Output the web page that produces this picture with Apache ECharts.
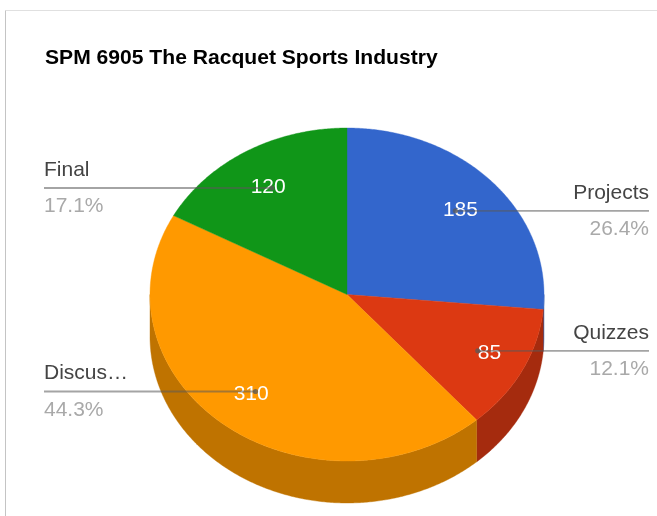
<!DOCTYPE html>
<html>
<head>
<meta charset="utf-8">
<style>html,body{margin:0;padding:0;background:#fff}#chart{width:657px;height:516px}</style>
<script src="https://cdn.jsdelivr.net/npm/echarts@6/dist/echarts.min.js"></script>
</head>
<body>
<div id="chart"></div>
<script>
// Course grade weights
var chartTitle = 'SPM 6905 The Racquet Sports Industry';
var categories = ['Projects', 'Quizzes', 'Discus\u2026', 'Final'];
var values = [185, 85, 310, 120];
var topColors = ['#3366CC', '#DC3912', '#FF9900', '#109618'];
var wallColors = ['#264D99', '#A52B0E', '#BF7300', '#0C7112'];

// Tilted-disc geometry, in pixels
var CX = 347, CY = 294.5, RX = 197, RY = 166.5, DEPTH = 42;
var LEADER_F = 0.745, VALUE_FX = 0.78, VALUE_FY = 0.757;
var LEFT_X = 44, RIGHT_X = 649;
var FONT = '"Liberation Sans", Arial, sans-serif';
var quizzesValueShift = 5.5;

var total = values.reduce(function (a, b) { return a + b; }, 0);

function sliceAngles(index) {
  var before = values.slice(0, index).reduce(function (a, b) { return a + b; }, 0);
  return [before / total * 360, (before + values[index]) / total * 360];
}
function rimPoint(deg, f, drop) {
  var r = deg * Math.PI / 180;
  return [CX + RX * f * Math.sin(r), CY - RY * f * Math.cos(r) + (drop || 0)];
}
function arcPoints(a, b, drop) {
  var pts = [], n = Math.max(2, Math.ceil((b - a) * 2));
  for (var i = 0; i <= n; i++) pts.push(rimPoint(a + (b - a) * i / n, 1, drop));
  return pts;
}

// Side wall of a slice: only the part on the near half of the disc shows
function renderWall(params, api) {
  var i = params.dataIndex, ang = sliceAngles(i);
  var a = Math.max(ang[0], 90), b = Math.min(ang[1], 270);
  if (b <= a || !api.value(0)) return null;
  var pts = arcPoints(a, b, 0).concat(arcPoints(a, b, DEPTH).reverse());
  return { type: 'polygon', shape: { points: pts },
    style: { fill: wallColors[i], stroke: wallColors[i], lineWidth: 0.4 } };
}

// Upper face of a slice
function renderTop(params, api) {
  var i = params.dataIndex, ang = sliceAngles(i);
  if (!api.value(0)) return null;
  var pts = [[CX, CY]].concat(arcPoints(ang[0], ang[1], 0));
  return { type: 'polygon', shape: { points: pts },
    style: { fill: topColors[i], stroke: topColors[i], lineWidth: 0.4 } };
}

// Value, leader line, anchor dot, name and share for a slice
function renderLabel(params, api) {
  var i = params.dataIndex, ang = sliceAngles(i), mid = (ang[0] + ang[1]) / 2;
  var v = api.value(0);
  var anchor = rimPoint(mid, LEADER_F);
  var onRight = mid < 180;
  var edge = onRight ? RIGHT_X : LEFT_X;
  var align = onRight ? 'right' : 'left';
  var vx = rimPoint(mid, VALUE_FX)[0] + (categories[i] === 'Quizzes' ? quizzesValueShift : 0);
  var vy = rimPoint(mid, VALUE_FY)[1] + 1;
  function text(x, y, str, fill, al) {
    return { type: 'text', style: { x: x, y: y, text: str, fill: fill,
      font: '21px ' + FONT, align: al, verticalAlign: 'middle' } };
  }
  return { type: 'group', children: [
    text(vx, vy, String(v), '#ffffff', 'center'),
    { type: 'line', shape: { x1: anchor[0], y1: anchor[1], x2: edge, y2: anchor[1] },
      style: { stroke: 'rgba(90,90,90,0.55)', lineWidth: 1.8 } },
    { type: 'circle', shape: { cx: anchor[0], cy: anchor[1], r: 2.6 },
      style: { fill: 'rgba(90,90,90,0.75)' } },
    text(edge, anchor[1] - 18, categories[i], '#444444', align),
    text(edge, anchor[1] + 18.5, (v / total * 100).toFixed(1) + '%', '#a9a9a9', align)
  ] };
}

var seriesData = categories.map(function (c, i) { return { name: c, value: values[i] }; });
function customSeries(name, z, fn) {
  return { type: 'custom', name: name, coordinateSystem: 'none', z: z,
    silent: true, animation: false, clip: false, renderItem: fn, data: seriesData };
}

var chart = echarts.init(document.getElementById('chart'), null, { renderer: 'canvas' });
chart.setOption({
  animation: false,
  backgroundColor: '#ffffff',
  title: {
    text: chartTitle, left: 45, top: 48, padding: 0,
    textStyle: { fontFamily: FONT, fontSize: 21.1, fontWeight: 'bold', color: '#000000' }
  },
  // Card border on the top and left edges
  graphic: [
    { type: 'line', silent: true, shape: { x1: 5.5, y1: 10.5, x2: 657, y2: 10.5 }, style: { stroke: '#e0e0e0', lineWidth: 1 } },
    { type: 'line', silent: true, shape: { x1: 5.5, y1: 10.5, x2: 5.5, y2: 516 }, style: { stroke: '#c4c4c4', lineWidth: 1 } }
  ],
  series: [
    customSeries('Wall', 1, renderWall),
    customSeries('Top', 2, renderTop),
    customSeries('Labels', 3, renderLabel)
  ]
});
</script>
</body>
</html>
